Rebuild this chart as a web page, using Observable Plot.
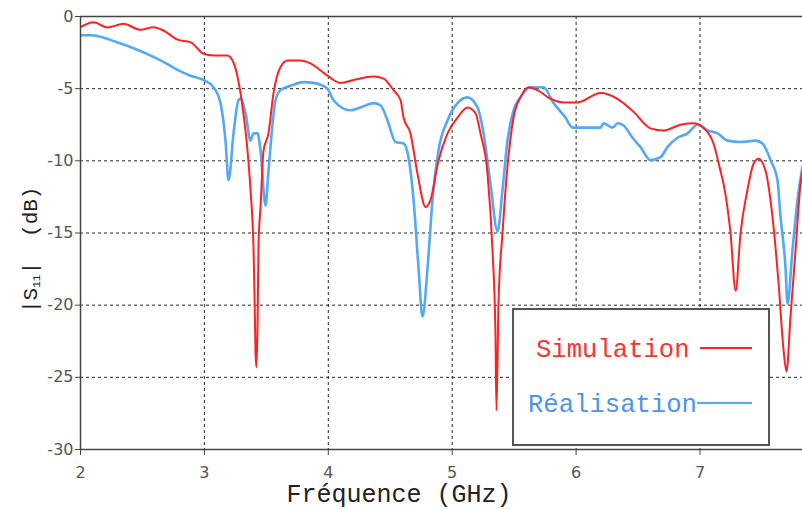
<!DOCTYPE html>
<html><head><meta charset="utf-8">
<script src="https://cdn.jsdelivr.net/npm/d3@7"></script>
<script src="https://cdn.jsdelivr.net/npm/@observablehq/plot@0.6"></script>
<style>body{margin:0;background:#fff}</style>
</head><body><div id="chart"></div>
<script>
const simFreq = [2.000,2.105,2.218,2.347,2.484,2.589,2.670,2.783,2.888,2.993,3.073,3.186,3.235,3.275,3.316,3.348,3.372,3.396,3.404,3.412,3.420,3.429,3.437,3.453,3.477,3.517,3.558,3.614,3.671,3.776,3.856,3.993,4.098,4.203,4.365,4.446,4.526,4.583,4.607,4.663,4.720,4.785,4.825,4.889,4.962,5.043,5.123,5.188,5.228,5.285,5.325,5.349,5.357,5.374,5.406,5.446,5.495,5.551,5.616,5.688,5.793,5.898,6.011,6.197,6.334,6.463,6.600,6.705,6.843,6.947,7.028,7.109,7.165,7.190,7.246,7.287,7.327,7.383,7.432,7.472,7.529,7.585,7.634,7.674,7.698,7.730,7.771,7.811,7.827];
const simDb = [-0.74,-0.40,-0.76,-0.50,-0.92,-0.74,-0.97,-1.6,-1.78,-2.58,-2.7,-2.7,-3.2,-4.5,-6.8,-9.3,-12,-16,-19,-23.1,-24.3,-21.3,-15.7,-13.2,-9.3,-8.1,-5.3,-3.5,-3.05,-3.05,-3.25,-4.1,-4.6,-4.4,-4.15,-4.3,-5.1,-5.8,-7.0,-8.1,-10.9,-13.2,-12.7,-10,-8.1,-7,-6.3,-6.7,-8.1,-10.9,-16.2,-22,-27.3,-19.7,-15,-10.4,-7,-5.6,-4.9,-5.1,-5.7,-5.95,-5.95,-5.3,-5.7,-6.6,-7.75,-7.9,-7.5,-7.4,-7.7,-8.8,-10.7,-11.6,-15,-19,-15,-12,-10.2,-9.85,-10.7,-13.9,-18.5,-23.1,-24.6,-20.8,-16.2,-11.6,-10.7];
const realFreq = [2.000,2.081,2.161,2.299,2.428,2.589,2.702,2.783,2.888,2.993,3.073,3.130,3.170,3.195,3.235,3.275,3.291,3.332,3.372,3.396,3.429,3.453,3.493,3.517,3.574,3.614,3.695,3.800,3.881,3.993,4.042,4.179,4.260,4.365,4.421,4.478,4.542,4.607,4.647,4.688,4.728,4.760,4.801,4.841,4.889,4.962,5.043,5.123,5.204,5.253,5.309,5.366,5.406,5.446,5.495,5.551,5.632,5.737,5.818,5.914,5.971,6.197,6.221,6.294,6.334,6.383,6.455,6.520,6.600,6.681,6.737,6.818,6.899,6.980,7.061,7.141,7.222,7.327,7.448,7.504,7.569,7.625,7.650,7.690,7.706,7.746,7.787,7.827];
const realDb = [-1.3,-1.3,-1.4,-1.8,-2.2,-2.8,-3.3,-3.7,-4.1,-4.4,-4.9,-6.0,-8.6,-11.35,-8.1,-5.8,-5.7,-6.7,-8.6,-8.1,-8.1,-9.3,-13.1,-10.7,-5.8,-5.1,-4.8,-4.55,-4.6,-5.0,-5.8,-6.5,-6.3,-6.0,-6.15,-7.2,-8.7,-8.8,-9.75,-12.7,-17.4,-20.8,-17.4,-12.7,-9.3,-7.2,-6.0,-5.6,-6.3,-8.1,-11.6,-14.9,-12,-8.6,-6.5,-5.6,-4.9,-4.9,-6.0,-7.0,-7.7,-7.7,-7.4,-7.7,-7.4,-7.55,-8.4,-9.05,-9.95,-9.75,-9.05,-8.4,-8.1,-7.5,-7.9,-8.1,-8.6,-8.7,-8.6,-8.8,-9.95,-11.35,-13.9,-17.4,-19.9,-16.2,-12.7,-10.4];
const xTicks = [2,3,4,5,6,7];
const yTicks = [0,-5,-10,-15,-20,-25,-30];
const seriesNames = ["Simulation","Réalisation"];
const lineColors = ["#ff2020","#55a8f8"];
const textColors = ["#ff3030","#4a94ee"];
const xLabel = "Fréquence (GHz)";

const sim = simFreq.map((f,i)=>({f, db: simDb[i]}));
const real = realFreq.map((f,i)=>({f, db: realDb[i]}));

const svgEl = Plot.plot({
  width: 802, height: 510,
  marginLeft: 80, marginTop: 16, marginBottom: 61, marginRight: 0,
  style: {background: "#fff", fontFamily: "DejaVu Sans", fontSize: "16px"},
  x: {domain: [2, 7.827]},
  y: {domain: [-30, 0]},
  marks: [
    Plot.gridX(xTicks, {stroke: "#000", strokeOpacity: 0.85, strokeDasharray: "3,3"}),
    Plot.gridY(yTicks, {stroke: "#000", strokeOpacity: 0.85, strokeDasharray: "3,3"}),
    Plot.line(real, {x: "f", y: "db", stroke: lineColors[1], strokeWidth: 2.6, curve: "monotone-x", clip: true}),
    Plot.line(sim, {x: "f", y: "db", stroke: lineColors[0], strokeWidth: 2, curve: "monotone-x", clip: true}),
    Plot.ruleY([0], {stroke: "#444", strokeWidth: 1.5}),
    Plot.ruleY([-30], {stroke: "#444", strokeWidth: 1.5}),
    Plot.ruleX([2], {stroke: "#444", strokeWidth: 1.5}),
    Plot.axisX({ticks: xTicks, tickFormat: d => String(d), tickSize: 6, tickPadding: 11, fill: "#555", stroke: "#444", fontSize: 16, label: null}),
    Plot.axisY({ticks: yTicks, tickFormat: d => String(d), tickSize: 5, tickPadding: 2, fill: "#555", stroke: "#444", fontSize: 16, label: null})
  ]
});
document.getElementById("chart").appendChild(svgEl);

const svg = d3.select(svgEl);
const mono = "Liberation Mono, Courier New, monospace";

// x-axis title
svg.append("text").attr("x", 399).attr("y", 502)
  .attr("text-anchor", "middle").attr("font-family", mono).attr("font-size", 25)
  .attr("fill", "#222").text(xLabel);

// y-axis title |S11| (dB)
const yt = svg.append("text").attr("transform", "translate(37,313) rotate(-90)")
  .attr("text-anchor", "start")
  .attr("font-family", mono).attr("font-size", 21).attr("fill", "#222");
yt.append("tspan").text("|S");
yt.append("tspan").attr("font-size", 11).attr("dy", 3).text("11");
yt.append("tspan").attr("dy", -3).text("|");
yt.append("tspan").attr("dx", 25).text("(dB)");

// legend
const lg = svg.append("g").attr("text-anchor", "start");
lg.append("rect").attr("x", 513).attr("y", 309).attr("width", 256).attr("height", 136)
  .attr("fill", "#fff").attr("stroke", "#555").attr("stroke-width", 2);
const rows = [{x: 536, y: 357, ly: 348, lx: 700}, {x: 528, y: 412, ly: 403, lx: 697}];
seriesNames.forEach((n, i) => {
  lg.append("text").attr("x", rows[i].x).attr("y", rows[i].y)
    .attr("font-family", mono).attr("font-size", 25.6).attr("fill", textColors[i]).text(n);
  lg.append("line").attr("x1", rows[i].lx).attr("x2", 752).attr("y1", rows[i].ly).attr("y2", rows[i].ly)
    .attr("stroke", lineColors[i]).attr("stroke-width", 2);
});
</script>
</body></html>
